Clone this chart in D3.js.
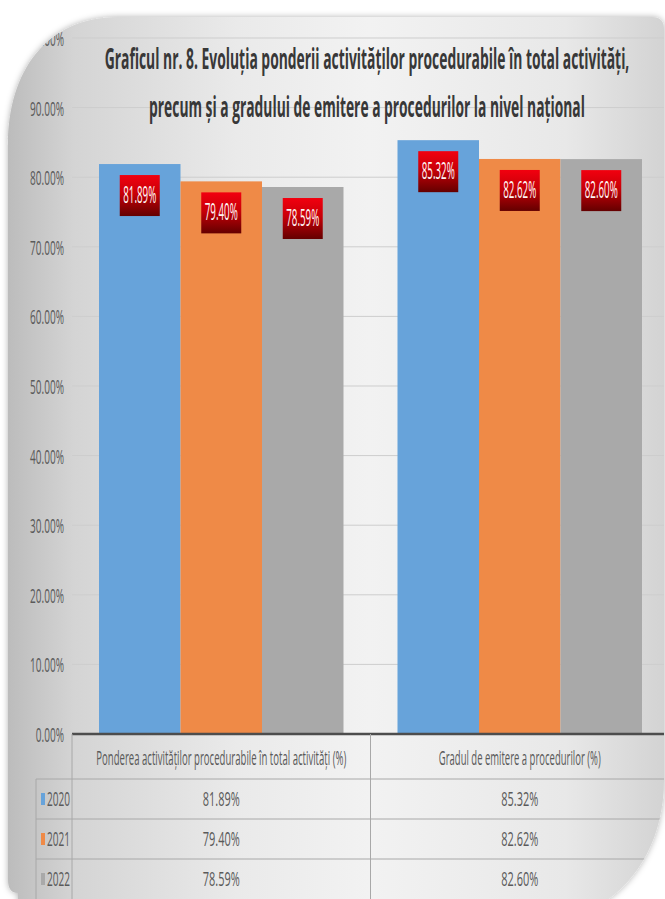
<!DOCTYPE html>
<html><head><meta charset="utf-8">
<script src="https://cdn.jsdelivr.net/npm/d3@7"></script>
<style>html,body{margin:0;padding:0;background:#fff;}svg{display:block;}</style>
</head><body>
<script>
// ---- data ----
const titleLines = [
  "Graficul nr. 8. Evoluția ponderii activităților procedurabile în total activități,",
  "precum și a gradului de emitere a procedurilor la nivel național"
];
const categories = [
  "Ponderea activităților procedurabile în total activități (%)",
  "Gradul de emitere a procedurilor (%)"
];
const years = ["2020", "2021", "2022"];
const values2020 = [81.89, 85.32];
const values2021 = [79.40, 82.62];
const values2022 = [78.59, 82.60];
const yTicks = [0, 10, 20, 30, 40, 50, 60, 70, 80, 90, 100];
const seriesColors = ["#67a3da", "#ef8a47", "#a9a9a9"];

const series = [values2020, values2021, values2022];
const W = 665, H = 899;
const fmt = v => d3.format(".2f")(v) + "%";
const FONT = "'Open Sans', 'Liberation Sans', sans-serif";

const svg = d3.select("body").append("svg").attr("width", W).attr("height", H);
const defs = svg.append("defs");

// background gradient
const bg = defs.append("linearGradient").attr("id", "bgGrad").attr("x1", 0).attr("x2", 1).attr("y1", 0).attr("y2", 0);
[[0, "#bcbcbc"], [0.1, "#d4d4d4"], [0.35, "#eaeaea"], [0.55, "#f2f2f2"], [0.85, "#e8e8e8"], [1, "#d3d3d3"]]
  .forEach(([o, c]) => bg.append("stop").attr("offset", o).attr("stop-color", c));
const lg = defs.append("linearGradient").attr("id", "lblGrad").attr("x1", 0).attr("x2", 0).attr("y1", 0).attr("y2", 1);
[[0, "#f2000f"], [0.45, "#c80008"], [1, "#640000"]]
  .forEach(([o, c]) => lg.append("stop").attr("offset", o).attr("stop-color", c));
const sh = defs.append("filter").attr("id", "shadow").attr("x", -0.1).attr("y", -0.1).attr("width", 1.2).attr("height", 1.2);
sh.append("feDropShadow").attr("dx", 0).attr("dy", 0).attr("stdDeviation", 3).attr("flood-color", "#000").attr("flood-opacity", 0.3);

// background shape
const L = 8, T = 17, R = 664;
const shape = d3.path();
shape.moveTo(L, 145);
shape.bezierCurveTo(L, 72, 46, T, 118, T);
shape.lineTo(R - 12, T);
shape.quadraticCurveTo(R, T, R, T + 12);
shape.lineTo(R, 780);
shape.bezierCurveTo(R, 835, 640, 880, 600, 905);
shape.lineTo(L + 10, 905);
shape.lineTo(L + 10, 893);
shape.quadraticCurveTo(L, 893, L, 880);
shape.closePath();
const shapeD = shape.toString();

svg.append("path").attr("d", shapeD).attr("fill", "url(#bgGrad)").attr("filter", "url(#shadow)");
defs.append("clipPath").attr("id", "clipShape").append("path").attr("d", shapeD);
const g = svg.append("g").attr("clip-path", "url(#clipShape)");

// scales
const x0 = d3.scaleBand().domain(categories).range([72, 669]).paddingInner(0).paddingOuter(0);
const x1 = d3.scaleBand().domain(years).range([27, x0.bandwidth() - 27]);
const y = d3.scaleLinear().domain([0, 100]).range([734, 38]);

// compressed text helper: either fixed horizontal scale (sx) or fitted to a target width (w)
function ctext(parent, x, yy, str, o) {
  const gg = parent.append("g");
  const t = gg.append("text").text(str)
    .attr("font-family", FONT)
    .attr("font-size", o.size).attr("font-weight", o.weight || "normal")
    .attr("fill", o.fill || "#595959").attr("text-anchor", o.anchor || "middle");
  let sx = o.sx;
  if (o.w) sx = o.w / t.node().getComputedTextLength();
  gg.attr("transform", `translate(${x},${yy}) scale(${sx},1)`);
  return t;
}

// gridlines
const yAxis = d3.axisLeft(y).tickValues(yTicks).tickSize(0).tickFormat("");
g.append("g").attr("transform", "translate(72,0)").call(yAxis).call(s => s.select(".domain").remove());
g.selectAll(".grid").data(yTicks.filter(d => d > 0)).join("line").attr("class", "grid")
  .attr("x1", 72).attr("x2", W).attr("y1", d => y(d)).attr("y2", d => y(d))
  .attr("stroke", "#cdcdcd").attr("stroke-width", 1);

// tick labels
yTicks.forEach(d => ctext(g, 64, y(d) + 8, d3.format(".2f")(d) + "%", {size: 20.5, sx: 0.49, anchor: "end", fill: "#5a5a5a"}));

// bars
const groups = g.selectAll(".cat").data(categories).join("g").attr("class", "cat")
  .attr("transform", d => `translate(${x0(d)},0)`);
years.forEach((yr, si) => {
  groups.append("rect")
    .attr("x", x1(yr)).attr("width", x1.bandwidth())
    .attr("y", (d, ci) => y(series[si][ci]))
    .attr("height", (d, ci) => y(0) - y(series[si][ci]))
    .attr("fill", seriesColors[si]);
});

// data labels
years.forEach((yr, si) => {
  categories.forEach((cat, ci) => {
    const v = series[si][ci];
    const cx = x0(cat) + x1(yr) + x1.bandwidth() / 2;
    const top = y(v) + 11;
    g.append("rect").attr("x", cx - 20).attr("y", top).attr("width", 40).attr("height", 41)
      .attr("fill", "url(#lblGrad)");
    ctext(g, cx, top + 28, fmt(v), {size: 23.5, w: 33, fill: "#fff4f4"});
  });
});

// axis line
g.append("line").attr("x1", 72).attr("x2", W).attr("y1", y(0)).attr("y2", y(0))
  .attr("stroke", "#4d4d4d").attr("stroke-width", 2.5);

// data table
const rowTop = 779, rowH = 40;
const tbl = g.append("g");
tbl.append("line").attr("x1", 72).attr("x2", 72).attr("y1", y(0)).attr("y2", H).attr("stroke", "#a8a8a8");
tbl.append("line").attr("x1", x0(categories[1])).attr("x2", x0(categories[1])).attr("y1", y(0)).attr("y2", H).attr("stroke", "#a8a8a8");
tbl.append("line").attr("x1", 36).attr("x2", 36).attr("y1", rowTop).attr("y2", H).attr("stroke", "#a8a8a8");
years.forEach((yr, i) => {
  tbl.append("line").attr("x1", 36).attr("x2", W).attr("y1", rowTop + i * rowH).attr("y2", rowTop + i * rowH)
    .attr("stroke", "#a8a8a8");
});
// header
const headerW = [250, 162];
categories.forEach((cat, ci) => {
  ctext(tbl, x0(cat) + x0.bandwidth() / 2, 765, cat, {size: 19.5, w: headerW[ci], fill: "#5a5a5a"});
});
// rows
years.forEach((yr, si) => {
  const cy = rowTop + si * rowH + rowH / 2;
  tbl.append("rect").attr("x", 41).attr("y", cy - 6).attr("width", 4).attr("height", 12).attr("fill", seriesColors[si]);
  ctext(tbl, 47, cy + 7, yr, {size: 20.5, w: 23, anchor: "start", fill: "#5a5a5a"});
  categories.forEach((cat, ci) => {
    ctext(tbl, x0(cat) + x0.bandwidth() / 2, cy + 7, fmt(series[si][ci]), {size: 20.5, w: 37, fill: "#5a5a5a"});
  });
});

// title
const titleW = [525, 436];
const titleY = [69, 117];
titleLines.forEach((t, i) => {
  ctext(g, 367, titleY[i], t, {size: 29, w: titleW[i], weight: "bold", fill: "#383838"});
});
</script>
</body></html>
